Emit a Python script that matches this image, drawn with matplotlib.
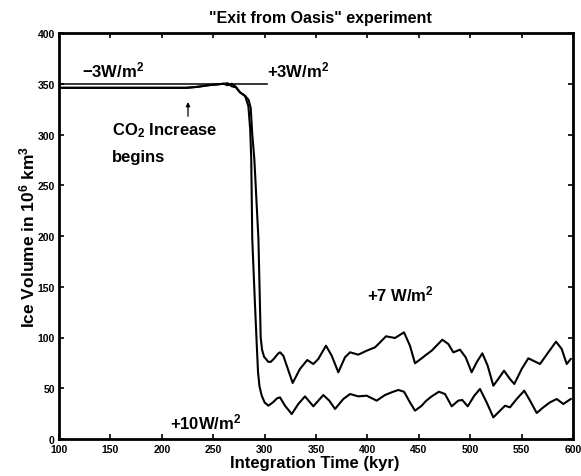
import matplotlib
matplotlib.use("Agg")
import matplotlib.pyplot as plt

plt.rcParams['font.family'] = ['Liberation Sans', 'DejaVu Sans']
plt.rcParams['mathtext.fontset'] = 'custom'
plt.rcParams['mathtext.rm'] = 'Liberation Sans:bold'
plt.rcParams['mathtext.it'] = 'Liberation Sans:bold:italic'
plt.rcParams['mathtext.bf'] = 'Liberation Sans:bold'

# +10 W/m2 run (lower curve)
t10 = [100, 150, 200, 224, 235, 245, 255, 260, 264, 268, 272, 276, 281, 284.2, 286, 287, 288,
       290.7, 292.5, 293.6, 295, 297.2, 300, 303.6, 308, 312, 315, 319.8, 326.4, 332.8, 339.3,
       347.4, 357.1, 362.9, 368.5, 376.6, 383.1, 391.2, 399.3, 409.0, 417.1, 423.6, 430.1, 435.6,
       441.4, 446.3, 452.8, 457.0, 462.5, 469.6, 475.5, 482.0, 488.4, 492.3, 497.6, 504.0, 509.5,
       516.0, 522.5, 529.0, 533.9, 538.7, 545.2, 552.6, 558.2, 564.7, 571.1, 577.6, 584.2, 590.6,
       597.8]
v10 = [346, 346, 346, 346, 347, 348.5, 349.5, 350, 348.5, 350, 347, 341.6, 338, 328, 305, 276, 197,
       131, 90, 66, 52, 42.7, 36, 32.8, 36, 40, 41, 32.8, 24.6, 34.5, 42.0,
       32.2, 43.3, 37.8, 29.6, 39.4, 44.3, 42.0, 42.7, 37.8, 43.3, 46.0, 48.3, 46.6,
       36.1, 27.9, 32.8, 37.5, 42.0, 46.6, 44.3, 32.2, 37.8, 38.4, 32.2, 42.7, 49.3,
       36.1, 21.3, 27.9, 32.8, 31.2, 39.4, 47.6, 37.8, 25.6, 31.2, 36.1, 39.4, 34.5,
       39.4]

# +7 W/m2 run (upper curve)
t7 = [100, 150, 200, 224, 235, 245, 255, 260, 264, 268, 272, 276, 281, 284.5, 286.5, 288, 290, 294,
      295.5, 296.2, 297.5, 299.5, 303.6, 306, 309, 313, 315, 318.2, 327.3, 334.4, 341.5, 347.4,
      352.2, 359.7, 365.3, 371.7, 378.2, 383.1, 391.2, 399.3, 407.4, 412.3, 418.1, 426.8, 435.6,
      441.4, 446.3, 452.8, 456.0, 462.5, 472.9, 478.7, 483.6, 490.1, 495.6, 501.4, 506.3, 511.8,
      517.0, 522.5, 527.3, 532.9, 538.7, 542.9, 550.1, 556.5, 561.4, 567.9, 576.0, 583.5, 589.0,
      593.9, 597.8]
v7 = [346, 346, 346, 346, 347, 348.5, 349.5, 350, 350.5, 347.5, 346.5, 341.6, 338, 334, 326, 300, 276, 197,
      131, 100, 88, 81, 76, 76, 79, 84, 85.4, 82.1, 55.2, 69.0, 77.8, 73.9,
      78.8, 91.9, 82.1, 65.7, 80.5, 85.4, 83.1, 87.0, 90.3, 95.2, 101.2, 99.5, 105.1,
      91.9, 74.6, 79.5, 82.1, 87.0, 97.8, 93.6, 85.4, 88.0, 80.5, 65.7, 75.6, 84.4,
      72.2, 52.5, 59.1, 67.3, 59.1, 54.2, 69.0, 79.5, 77.1, 73.9, 85.4, 95.9, 88.7,
      73.9, 78.8]

# reference level line
ref_t = [100, 302]
ref_v = [350, 350]

xticks = list(range(100, 601, 50))
yticks = list(range(0, 401, 50))

fig = plt.figure(figsize=(5.81, 4.77), dpi=100)
ax = fig.add_axes([59/581, 1-440/477, 514/581, 406/477])

ax.plot(ref_t, ref_v, color='black', lw=1.1)
ax.plot(t10, v10, color='black', lw=1.5)
ax.plot(t7, v7, color='black', lw=1.5)

ax.set_xlim(100, 600)
ax.set_ylim(0, 400)
ax.set_xticks(xticks)
ax.set_yticks(yticks)
ax.tick_params(direction='in', top=True, right=True, length=3.5, width=1.2,
               labelsize=7.5)
ax.tick_params(axis='x', pad=3.5)
ax.tick_params(axis='y', pad=3)
for lab in ax.get_xticklabels() + ax.get_yticklabels():
    lab.set_fontweight('bold')
for s in ax.spines.values():
    s.set_linewidth(2)

# annotations
fs = 12
ax.text(122, 364, '\u22123W/m$^2$', fontsize=fs, fontweight='bold', va='center', ha='left')
ax.text(302, 364, '+3W/m$^2$', fontsize=fs, fontweight='bold', va='center', ha='left')
ax.annotate('', xy=(225.5, 332), xytext=(225.5, 318),
            arrowprops=dict(arrowstyle='-|>', lw=0.9, color='black', mutation_scale=6,
                            shrinkA=0, shrinkB=0))
ax.text(151.5, 305, 'CO$_2$ Increase', fontsize=fs, fontweight='bold', va='center', ha='left')
ax.text(151.5, 278, 'begins', fontsize=fs, fontweight='bold', va='center', ha='left')
ax.text(399.5, 143, '+7 W/m$^2$', fontsize=fs, fontweight='bold', va='center', ha='left')
ax.text(208, 17, '+10W/m$^2$', fontsize=fs, fontweight='bold', va='center', ha='left')

fig.text(320/581, 1-18/477, '"Exit from Oasis" experiment', fontsize=11.5,
         fontweight='bold', ha='center', va='center')
fig.text(315/581, 1-464/477, 'Integration Time (kyr)', fontsize=12,
         fontweight='bold', ha='center', va='center')
fig.text(27/581, 1-237/477, 'Ice Volume in 10$^6$ km$^3$', fontsize=12.5,
         fontweight='bold', ha='center', va='center', rotation=90)

fig.savefig('out.png', dpi=100)
